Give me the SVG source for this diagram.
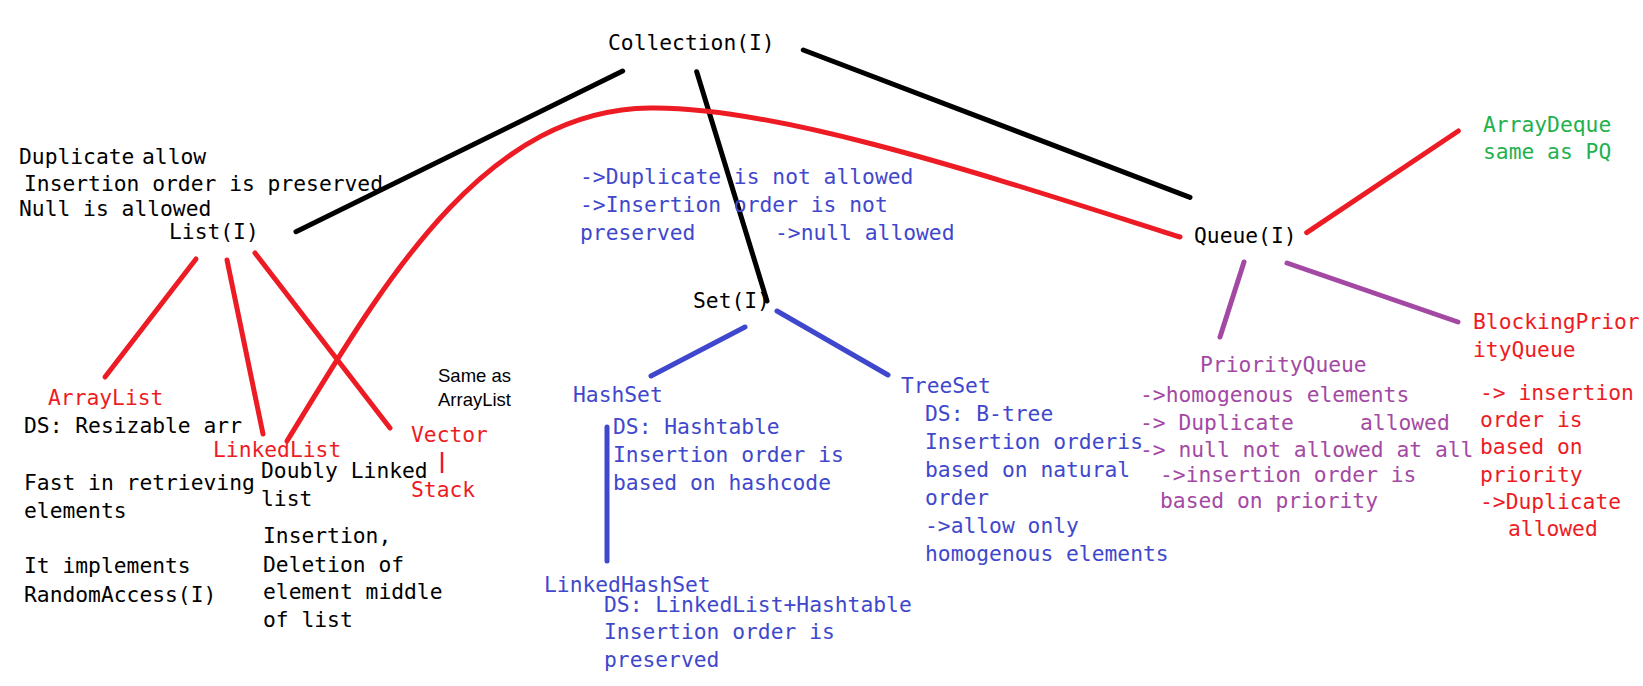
<svg xmlns="http://www.w3.org/2000/svg" width="1643" height="686" viewBox="0 0 1643 686">
<style>
text{font-family:"DejaVu Sans Mono","Liberation Mono",monospace;font-size:21.3px}
.k{fill:#000}.r{fill:#ED1C24}.b{fill:#3F48CC}.p{fill:#A349A4}.g{fill:#22B14C}
.s{font-family:"Liberation Sans",Arial,sans-serif;font-size:18.5px}
.ln{fill:none;stroke-width:5;stroke-linecap:round}
.lk{stroke:#000}.lr{stroke:#ED1C24}.lb{stroke:#3F48CC}.lp{stroke:#A349A4}
</style>
<rect width="1643" height="686" fill="#fff"/>
<g id="connectors">
<line class="ln lk" x1="622.7" y1="71" x2="296" y2="231.7"/>
<line class="ln lk" x1="696.7" y1="71.7" x2="767" y2="301"/>
<line class="ln lk" x1="803.3" y1="50" x2="1190" y2="197.3"/>
<line class="ln lr" x1="196" y1="259" x2="105" y2="377"/>
<line class="ln lr" x1="227" y1="260" x2="263" y2="434"/>
<line class="ln lr" x1="255" y1="253" x2="390" y2="428"/>
<path class="ln lr" d="M287,441 C380,290 480,110 650,108 C780,106 1000,180 1180,237"/>
<line x1="442" y1="452" x2="442" y2="473" stroke="#ED1C24" stroke-width="2.5"/>
<line class="ln lr" x1="1306.7" y1="232.7" x2="1458.3" y2="131"/>
<line class="ln lb" x1="745" y1="327" x2="651" y2="376"/>
<line class="ln lb" x1="777" y1="311" x2="888" y2="375"/>
<line class="ln lb" x1="607" y1="427" x2="607" y2="561" stroke-width="4"/>
<line class="ln lp" x1="1244" y1="262" x2="1220" y2="337"/>
<line class="ln lp" x1="1287" y1="263" x2="1458" y2="322"/>
</g>
<g id="collection"><text class="k" x="608" y="50">Collection(I)</text></g>
<g id="list">
<text class="k" x="19" y="164">Duplicate</text><text class="k" x="142" y="164">allow</text>
<text class="k" x="24" y="191">Insertion order is preserved</text>
<text class="k" x="19" y="216">Null is allowed</text>
<text class="k" x="169" y="239">List(I)</text>
</g>
<g id="arraylist">
<text class="r" x="48" y="405">ArrayList</text>
<text class="k" x="24" y="433">DS: Resizable arr</text>
<text class="k" x="24" y="490">Fast in retrieving</text>
<text class="k" x="24" y="518">elements</text>
<text class="k" x="24" y="573">It implements</text>
<text class="k" x="24" y="602">RandomAccess(I)</text>
</g>
<g id="linkedlist">
<text class="r" x="213" y="457">LinkedList</text>
<text class="k" x="261" y="478">Doubly Linked</text>
<text class="k" x="261" y="506">list</text>
<text class="k" x="263" y="543">Insertion,</text>
<text class="k" x="263" y="572">Deletion of</text>
<text class="k" x="263" y="599">element middle</text>
<text class="k" x="263" y="627">of list</text>
</g>
<g id="vector">
<text class="r" x="411" y="442">Vector</text>
<text class="s k" x="438" y="382">Same as</text>
<text class="s k" x="438" y="406">ArrayList</text>
</g>
<g id="stack"><text class="r" x="411" y="497">Stack</text></g>
<g id="set">
<text class="b" x="580" y="184">-&gt;Duplicate is not allowed</text>
<text class="b" x="580" y="212">-&gt;Insertion order is not</text>
<text class="b" x="580" y="240">preserved</text>
<text class="b" x="775" y="240">-&gt;null allowed</text>
<text class="k" x="693" y="308">Set(I)</text>
</g>
<g id="hashset">
<text class="b" x="573" y="402">HashSet</text>
<text class="b" x="613" y="434">DS: Hashtable</text>
<text class="b" x="613" y="462">Insertion order is</text>
<text class="b" x="613" y="490">based on hashcode</text>
</g>
<g id="linkedhashset">
<text class="b" x="544" y="592">LinkedHashSet</text>
<text class="b" x="604" y="612">DS: LinkedList+Hashtable</text>
<text class="b" x="604" y="639">Insertion order is</text>
<text class="b" x="604" y="667">preserved</text>
</g>
<g id="treeset">
<text class="b" x="901" y="393">TreeSet</text>
<text class="b" x="925" y="421">DS: B-tree</text>
<text class="b" x="925" y="449">Insertion orderis</text>
<text class="b" x="925" y="477">based on natural</text>
<text class="b" x="925" y="505">order</text>
<text class="b" x="925" y="533">-&gt;allow only</text>
<text class="b" x="925" y="561">homogenous elements</text>
</g>
<g id="queue"><text class="k" x="1194" y="243">Queue(I)</text></g>
<g id="arraydeque">
<text class="g" x="1483" y="132">ArrayDeque</text>
<text class="g" x="1483" y="159">same as PQ</text>
</g>
<g id="priorityqueue">
<text class="p" x="1200" y="372">PriorityQueue</text>
<text class="p" x="1140" y="402">-&gt;homogenous elements</text>
<text class="p" x="1140" y="430">-&gt; Duplicate</text>
<text class="p" x="1360" y="430">allowed</text>
<text class="p" x="1140" y="457">-&gt; null not allowed at all</text>
<text class="p" x="1160" y="482">-&gt;insertion order is</text>
<text class="p" x="1160" y="508">based on priority</text>
</g>
<g id="blockingpriorityqueue">
<text class="r" x="1473" y="329">BlockingPrior</text>
<text class="r" x="1473" y="357">ityQueue</text>
<text class="r" x="1480" y="400">-&gt; insertion</text>
<text class="r" x="1480" y="427">order is</text>
<text class="r" x="1480" y="454">based on</text>
<text class="r" x="1480" y="482">priority</text>
<text class="r" x="1480" y="509">-&gt;Duplicate</text>
<text class="r" x="1508" y="536">allowed</text>
</g>
</svg>
